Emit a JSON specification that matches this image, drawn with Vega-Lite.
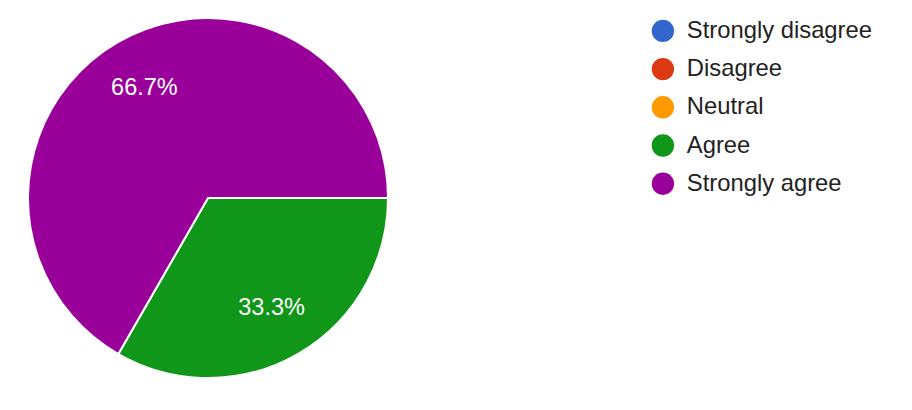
{
  "$schema": "https://vega.github.io/schema/vega-lite/v6.json",
  "width": 416,
  "height": 396,
  "padding": 0,
  "background": "white",
  "data": {
    "values": [
      {"answer": "Strongly disagree", "share": 0, "rank": 1},
      {"answer": "Disagree", "share": 0, "rank": 2},
      {"answer": "Neutral", "share": 0, "rank": 3},
      {"answer": "Agree", "share": 0.333, "rank": 4},
      {"answer": "Strongly agree", "share": 0.667, "rank": 5}
    ]
  },
  "encoding": {
    "theta": {"field": "share", "type": "quantitative", "stack": true, "scale": {"range": [1.5708, 7.854]}},
    "order": {"field": "rank", "type": "quantitative"},
    "color": {
      "field": "answer",
      "type": "nominal",
      "scale": {
        "domain": ["Strongly disagree", "Disagree", "Neutral", "Agree", "Strongly agree"],
        "range": ["#3366cc", "#dc3912", "#ff9900", "#109618", "#990099"]
      },
      "legend": {
        "title": null,
        "orient": "none",
        "legendX": 651,
        "legendY": 19,
        "symbolType": "circle",
        "symbolSize": 500,
        "symbolStrokeWidth": 0,
        "labelFont": "Liberation Sans",
        "labelFontSize": 23.8,
        "labelColor": "#222222",
        "labelOffset": 12,
        "labelLimit": 400,
        "rowPadding": 13.2,
        "padding": 0
      }
    }
  },
  "layer": [
    {
      "mark": {"type": "arc", "outerRadius": 180, "stroke": "white", "strokeWidth": 2}
    },
    {
      "transform": [{"filter": "datum.share > 0"}],
      "mark": {"type": "text", "radius": 127, "font": "Liberation Sans", "fontSize": 23.5, "fill": "white"},
      "encoding": {
        "text": {"field": "share", "type": "quantitative", "format": ".1%"},
        "color": {"value": "white"}
      }
    }
  ],
  "config": {"view": {"stroke": null}}
}
